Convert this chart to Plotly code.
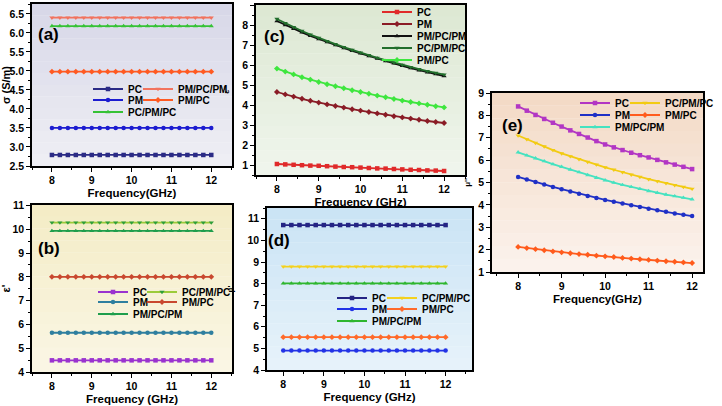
import plotly.graph_objects as go

W, H = 722, 406

# ---------------- data ----------------
freq = [8.0, 8.2, 8.4, 8.6, 8.8, 9.0, 9.2, 9.4, 9.6, 9.8, 10.0,
        10.2, 10.4, 10.6, 10.8, 11.0, 11.2, 11.4, 11.6, 11.8, 12.0]

# (a) sigma (S/m)
sigma_PC = [2.79, 2.79, 2.79, 2.79, 2.79, 2.79, 2.79, 2.79, 2.79, 2.79, 2.79,
            2.79, 2.79, 2.79, 2.79, 2.79, 2.79, 2.79, 2.79, 2.79, 2.79]
sigma_PM = [3.50, 3.50, 3.50, 3.50, 3.50, 3.50, 3.50, 3.50, 3.50, 3.50, 3.50,
            3.50, 3.50, 3.50, 3.50, 3.50, 3.50, 3.50, 3.50, 3.50, 3.50]
sigma_PCPMPC = [6.18, 6.18, 6.18, 6.18, 6.18, 6.18, 6.18, 6.18, 6.18, 6.18, 6.18,
                6.18, 6.18, 6.18, 6.18, 6.18, 6.18, 6.18, 6.18, 6.18, 6.18]
sigma_PMPCPM = [6.40, 6.40, 6.40, 6.40, 6.40, 6.40, 6.40, 6.40, 6.40, 6.40, 6.40,
                6.40, 6.40, 6.40, 6.40, 6.40, 6.40, 6.40, 6.40, 6.40, 6.40]
sigma_PMPC = [4.98, 4.98, 4.98, 4.98, 4.98, 4.98, 4.98, 4.98, 4.98, 4.98, 4.98,
              4.98, 4.98, 4.98, 4.98, 4.98, 4.98, 4.98, 4.98, 4.98, 4.98]

# (b) epsilon'
eps1_PC = [4.49, 4.49, 4.49, 4.49, 4.49, 4.49, 4.49, 4.49, 4.49, 4.49, 4.49,
           4.49, 4.49, 4.49, 4.49, 4.49, 4.49, 4.49, 4.49, 4.49, 4.49]
eps1_PM = [5.65, 5.65, 5.65, 5.65, 5.65, 5.65, 5.65, 5.65, 5.65, 5.65, 5.65,
           5.65, 5.65, 5.65, 5.65, 5.65, 5.65, 5.65, 5.65, 5.65, 5.65]
eps1_PMPCPM = [9.93, 9.93, 9.93, 9.93, 9.93, 9.93, 9.93, 9.93, 9.93, 9.93, 9.93,
               9.93, 9.93, 9.93, 9.93, 9.93, 9.93, 9.93, 9.93, 9.93, 9.93]
eps1_PCPMPC = [10.28, 10.28, 10.28, 10.28, 10.28, 10.28, 10.28, 10.28, 10.28, 10.28, 10.28,
               10.28, 10.28, 10.28, 10.28, 10.28, 10.28, 10.28, 10.28, 10.28, 10.28]
eps1_PMPC = [8.00, 8.00, 8.00, 8.00, 8.00, 8.00, 8.00, 8.00, 8.00, 8.00, 8.00,
             8.00, 8.00, 8.00, 8.00, 8.00, 8.00, 8.00, 8.00, 8.00, 8.00]

# (c) epsilon''
eps2_PC = [1.05, 1.03, 1.01, 0.99, 0.97, 0.96, 0.94, 0.92, 0.90, 0.89, 0.87,
           0.85, 0.83, 0.82, 0.80, 0.78, 0.76, 0.75, 0.73, 0.72, 0.70]
eps2_PM = [4.65, 4.53, 4.42, 4.31, 4.21, 4.12, 4.03, 3.95, 3.87, 3.79, 3.72,
           3.65, 3.58, 3.51, 3.44, 3.38, 3.32, 3.26, 3.20, 3.15, 3.10]
eps2_PMPCPM = [8.20, 8.00, 7.81, 7.63, 7.46, 7.30, 7.14, 6.99, 6.85, 6.71, 6.58,
               6.45, 6.32, 6.20, 6.08, 5.96, 5.84, 5.73, 5.63, 5.54, 5.45]
eps2_PCPMPC = [8.30, 8.09, 7.89, 7.70, 7.52, 7.35, 7.19, 7.04, 6.89, 6.75, 6.62,
               6.49, 6.36, 6.24, 6.12, 6.00, 5.89, 5.79, 5.69, 5.60, 5.52]
eps2_PMPC = [5.82, 5.67, 5.53, 5.39, 5.27, 5.15, 5.04, 4.94, 4.84, 4.74, 4.65,
             4.56, 4.47, 4.39, 4.30, 4.22, 4.15, 4.08, 4.01, 3.94, 3.88]

# (d) mu'
mu1_PC = [10.71, 10.71, 10.71, 10.71, 10.71, 10.71, 10.71, 10.71, 10.71, 10.71, 10.71,
          10.71, 10.71, 10.71, 10.71, 10.71, 10.71, 10.71, 10.71, 10.71, 10.71]
mu1_PM = [4.90, 4.90, 4.90, 4.90, 4.90, 4.90, 4.90, 4.90, 4.90, 4.90, 4.90,
          4.90, 4.90, 4.90, 4.90, 4.90, 4.90, 4.90, 4.90, 4.90, 4.90]
mu1_PMPCPM = [8.01, 8.01, 8.01, 8.01, 8.01, 8.01, 8.01, 8.01, 8.01, 8.01, 8.01,
              8.01, 8.01, 8.01, 8.01, 8.01, 8.01, 8.01, 8.01, 8.01, 8.01]
mu1_PCPMPC = [8.79, 8.79, 8.79, 8.79, 8.79, 8.79, 8.79, 8.79, 8.79, 8.79, 8.79,
              8.79, 8.79, 8.79, 8.79, 8.79, 8.79, 8.79, 8.79, 8.79, 8.79]
mu1_PMPC = [5.52, 5.52, 5.52, 5.52, 5.52, 5.52, 5.52, 5.52, 5.52, 5.52, 5.52,
            5.52, 5.52, 5.52, 5.52, 5.52, 5.52, 5.52, 5.52, 5.52, 5.52]

# (e) mu''
mu2_PC = [8.40, 8.21, 8.02, 7.84, 7.67, 7.50, 7.33, 7.17, 7.01, 6.85, 6.70,
          6.57, 6.45, 6.33, 6.22, 6.12, 6.01, 5.90, 5.80, 5.70, 5.60]
mu2_PM = [5.25, 5.13, 5.02, 4.91, 4.80, 4.70, 4.60, 4.50, 4.40, 4.31, 4.22,
          4.14, 4.06, 3.98, 3.90, 3.83, 3.76, 3.69, 3.62, 3.56, 3.50]
mu2_PMPCPM = [6.35, 6.21, 6.08, 5.95, 5.82, 5.70, 5.58, 5.46, 5.33, 5.21, 5.10,
              4.99, 4.89, 4.80, 4.71, 4.62, 4.54, 4.46, 4.39, 4.32, 4.25]
mu2_PCPMPC = [7.10, 6.93, 6.77, 6.61, 6.45, 6.30, 6.17, 6.04, 5.92, 5.80, 5.68,
              5.57, 5.46, 5.35, 5.25, 5.15, 5.06, 4.97, 4.88, 4.80, 4.72]
mu2_PMPC = [2.12, 2.07, 2.02, 1.97, 1.92, 1.88, 1.84, 1.80, 1.77, 1.73, 1.70,
            1.67, 1.63, 1.60, 1.57, 1.54, 1.51, 1.48, 1.46, 1.43, 1.40]

# ---------------- layout helpers ----------------
FONT = "Liberation Sans, Arial, sans-serif"


def fx(p):
    return p / W


def fy(p):
    return 1 - p / H


def mix(c1, c2, t):
    a = [int(c1[i:i + 2], 16) for i in (1, 3, 5)]
    b = [int(c2[i:i + 2], 16) for i in (1, 3, 5)]
    return "#%02x%02x%02x" % tuple(round(a[j] + (b[j] - a[j]) * t) for j in range(3))


panels = [
    dict(s="", box=(32, 232, 4, 166), xr=[7.5, 12.52], yr=[2.5, 6.76], dt=0.5, fmt=".1f",
         bg=("#d8d8e8", "#eeeef4"), yt="σ (S/m)", xt="Frequency(GHz)", yts=11, ystand=3,
         lab="(a)", lx=36, ly=34),
    dict(s="2", box=(32, 232, 205, 372), xr=[7.5, 12.52], yr=[4, 11.02], dt=1, fmt="d",
         bg=("#f4ecc6", "#faf6e4"), yt="ε'", xt="Frequency (GHz)", yts=11, ystand=6,
         lab="(b)", lx=36, ly=248),
    dict(s="3", box=(256, 465, 5, 175), xr=[7.5, 12.5], yr=[0.5, 9], dt=1, fmt="d",
         bg=("#dde8d3", "#eff5ec"), yt="ε''", xt="Frequency (GHz)", yts=8, ystand=11,
         lab="(c)", lx=262, ly=36),
    dict(s="4", box=(267, 472, 208, 370), xr=[7.6, 12.65], yr=[4, 11.5], dt=1, fmt="d",
         bg=("#cbe4f5", "#e6f2fa"), yt="μ'", xt="Frequency (GHz)", yts=8, ystand=13,
         lab="(d)", lx=266, ly=240),
    dict(s="5", box=(492, 703, 93, 272), xr=[7.4, 12.25], yr=[1, 9], dt=1, fmt="d",
         bg=("#f3dac6", "#fbf2ec"), yt="μ''", xt="Frequency(GHz)", yts=8, ystand=6,
         lab="(e)", lx=500, ly=125),
]

series = [
    (0, "PC", sigma_PC, "#2b2b86", "#2b2b86", "square", 128, 89),
    (0, "PM", sigma_PM, "#1c1cd0", "#1c1cd0", "circle", 128, 100),
    (0, "PC/PM/PC", sigma_PCPMPC, "#36c236", "#36c236", "triangle-up", 128, 112),
    (0, "PM/PC/PM", sigma_PMPCPM, "#f2735e", "#f2735e", "triangle-down", 178, 89),
    (0, "PM/PC", sigma_PMPC, "#ff5a22", "#ff5a22", "diamond", 178, 100),

    (1, "PC", eps1_PC, "#9a33cf", "#9a33cf", "square", 133, 292),
    (1, "PM", eps1_PM, "#2f7f9f", "#2f7f9f", "circle", 133, 302),
    (1, "PM/PC/PM", eps1_PMPCPM, "#1f9e4c", "#1f9e4c", "triangle-up", 133, 314),
    (1, "PC/PM/PC", eps1_PCPMPC, "#9ccb3a", "#2f9e3a", "triangle-down", 182, 292),
    (1, "PM/PC", eps1_PMPC, "#c9482f", "#c9482f", "diamond", 182, 302),

    (2, "PC", eps2_PC, "#e02a2a", "#e02a2a", "square", 417, 12),
    (2, "PM", eps2_PM, "#8a1c26", "#8a1c26", "diamond", 417, 24),
    (2, "PM/PC/PM", eps2_PMPCPM, "#111111", "#111111", "triangle-up", 417, 36),
    (2, "PC/PM/PC", eps2_PCPMPC, "#226e2c", "#226e2c", "triangle-down", 417, 48),
    (2, "PM/PC", eps2_PMPC, "#3ee63e", "#3ee63e", "diamond", 417, 60),

    (3, "PC", mu1_PC, "#242484", "#242484", "square", 372, 298),
    (3, "PM", mu1_PM, "#2233e6", "#2233e6", "circle", 372, 309),
    (3, "PM/PC/PM", mu1_PMPCPM, "#2fb62f", "#2fb62f", "triangle-up", 372, 321),
    (3, "PC/PM/PC", mu1_PCPMPC, "#f3d11f", "#f3d11f", "triangle-down", 422, 298),
    (3, "PM/PC", mu1_PMPC, "#ff6a2a", "#ff6a2a", "diamond", 422, 309),

    (4, "PC", mu2_PC, "#b236c4", "#b236c4", "square", 615, 103),
    (4, "PM", mu2_PM, "#1f30c6", "#1f30c6", "circle", 615, 115),
    (4, "PM/PC/PM", mu2_PMPCPM, "#45e2c0", "#45e2c0", "triangle-up", 615, 127),
    (4, "PC/PM/PC", mu2_PCPMPC, "#f2cb12", "#f2cb12", "triangle-down", 665, 103),
    (4, "PM/PC", mu2_PMPC, "#ff5b1c", "#ff5b1c", "diamond", 665, 115),
]

fig = go.Figure()
layout_extra = {}
shapes = []
annotations = []
NB = 14  # background gradient bands

for i, p in enumerate(panels):
    s = p["s"]
    x0, x1, y0, y1 = p["box"]
    xa = dict(domain=[fx(x0), fx(x1)], range=p["xr"], anchor="y" + s,
              showline=True, mirror=True, linecolor="black", linewidth=1.6,
              ticks="outside", ticklen=4, tickwidth=1.3, tickcolor="black",
              tick0=8, dtick=1, showgrid=False, zeroline=False,
              tickfont=dict(family=FONT, size=10.5, color="black", weight="bold"),
              minor=dict(ticks="outside", ticklen=2, dtick=0.5, tickcolor="black"),
              title=dict(text=p["xt"], standoff=4,
                         font=dict(family=FONT, size=11.5, color="black", weight="bold")))
    ya = dict(domain=[fy(y1), fy(y0)], range=p["yr"], anchor="x" + s,
              showline=True, mirror=True, linecolor="black", linewidth=1.6,
              ticks="outside", ticklen=4, tickwidth=1.3, tickcolor="black",
              dtick=p["dt"], tickformat=p["fmt"], showgrid=False, zeroline=False,
              tickfont=dict(family=FONT, size=10.5, color="black", weight="bold"),
              minor=dict(ticks="outside", ticklen=2, dtick=p["dt"] / 2, tickcolor="black"),
              title=dict(text=p["yt"], standoff=p["ystand"],
                         font=dict(family=FONT, size=p["yts"], color="black", weight="bold")))
    layout_extra["xaxis" + s] = xa
    layout_extra["yaxis" + s] = ya
    c_top, c_bot = p["bg"]
    for b in range(NB):
        shapes.append(dict(type="rect", xref="x" + s + " domain", yref="y" + s + " domain",
                           x0=0, x1=1, y0=1 - (b + 1) / NB, y1=1 - b / NB + 0.002,
                           layer="below", line=dict(width=0),
                           fillcolor=mix(c_top, c_bot, b / (NB - 1))))
    annotations.append(dict(text=p["lab"], x=fx(p["lx"]), y=fy(p["ly"]), xref="paper", yref="paper",
                            xanchor="left", yanchor="middle", showarrow=False,
                            font=dict(family=FONT, size=17, color="black", weight="bold")))

for k, (pi, name, vals, lc, mc, sym, tx, ty) in enumerate(series):
    s = panels[pi]["s"]
    lid = "legend" if k == 0 else "legend%d" % (k + 1)
    fig.add_trace(go.Scatter(
        x=freq, y=vals, name=name, mode="lines+markers",
        xaxis="x" + s, yaxis="y" + s, legend=lid, showlegend=True,
        line=dict(color=lc, width=1.8),
        marker=dict(color=mc, symbol=sym, size=4.5, line=dict(width=0)),
    ))
    layout_extra[lid] = dict(x=fx(tx - 40), y=fy(ty), xanchor="left", yanchor="middle",
                             bgcolor="rgba(0,0,0,0)", borderwidth=0, itemwidth=30,
                             font=dict(family=FONT, size=10, color="black", weight="bold"))

fig.update_layout(
    width=W, height=H, autosize=False, showlegend=True,
    margin=dict(l=0, r=0, t=0, b=0, autoexpand=False),
    paper_bgcolor="white", plot_bgcolor="rgba(0,0,0,0)",
    font=dict(family=FONT, color="black", weight="bold"),
    shapes=shapes, annotations=annotations,
    **layout_extra,
)

fig.write_html("out.html",
               config={"displayModeBar": False},
               post_script="document.body.style.margin='0';document.body.style.overflow='hidden';")
